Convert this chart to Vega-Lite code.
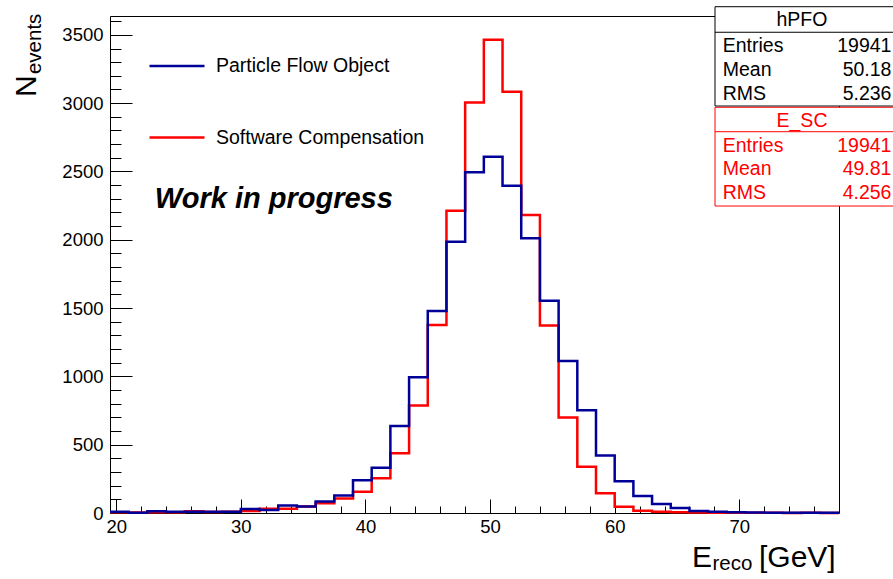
{
  "$schema": "https://vega.github.io/schema/vega-lite/v6.json",
  "width": 729,
  "height": 497,
  "autosize": {"type": "none"},
  "padding": {"left": 110, "top": 16, "right": 54, "bottom": 66},
  "background": "white",
  "config": {
    "view": {"stroke": "black", "strokeWidth": 1},
    "font": "Liberation Sans",
    "axis": {"grid": false, "domain": false, "tickColor": "black", "tickWidth": 1, "labelColor": "black", "labelFont": "Liberation Sans", "title": null}
  },
  "datasets": {
    "hist": [
      {"series": "Software Compensation", "lo": 19.5, "hi": 21, "n": 5},
      {"series": "Software Compensation", "lo": 21, "hi": 22.5, "n": 3},
      {"series": "Software Compensation", "lo": 22.5, "hi": 24, "n": 6},
      {"series": "Software Compensation", "lo": 24, "hi": 25.5, "n": 6},
      {"series": "Software Compensation", "lo": 25.5, "hi": 27, "n": 12},
      {"series": "Software Compensation", "lo": 27, "hi": 28.5, "n": 8},
      {"series": "Software Compensation", "lo": 28.5, "hi": 30, "n": 10},
      {"series": "Software Compensation", "lo": 30, "hi": 31.5, "n": 15},
      {"series": "Software Compensation", "lo": 31.5, "hi": 33, "n": 32},
      {"series": "Software Compensation", "lo": 33, "hi": 34.5, "n": 32},
      {"series": "Software Compensation", "lo": 34.5, "hi": 36, "n": 47},
      {"series": "Software Compensation", "lo": 36, "hi": 37.5, "n": 71},
      {"series": "Software Compensation", "lo": 37.5, "hi": 39, "n": 107},
      {"series": "Software Compensation", "lo": 39, "hi": 40.5, "n": 156},
      {"series": "Software Compensation", "lo": 40.5, "hi": 42, "n": 254},
      {"series": "Software Compensation", "lo": 42, "hi": 43.5, "n": 437},
      {"series": "Software Compensation", "lo": 43.5, "hi": 45, "n": 786},
      {"series": "Software Compensation", "lo": 45, "hi": 46.5, "n": 1376},
      {"series": "Software Compensation", "lo": 46.5, "hi": 48, "n": 2213},
      {"series": "Software Compensation", "lo": 48, "hi": 49.5, "n": 3004},
      {"series": "Software Compensation", "lo": 49.5, "hi": 51, "n": 3465},
      {"series": "Software Compensation", "lo": 51, "hi": 52.5, "n": 3084},
      {"series": "Software Compensation", "lo": 52.5, "hi": 54, "n": 2182},
      {"series": "Software Compensation", "lo": 54, "hi": 55.5, "n": 1373},
      {"series": "Software Compensation", "lo": 55.5, "hi": 57, "n": 699},
      {"series": "Software Compensation", "lo": 57, "hi": 58.5, "n": 339},
      {"series": "Software Compensation", "lo": 58.5, "hi": 60, "n": 144},
      {"series": "Software Compensation", "lo": 60, "hi": 61.5, "n": 46},
      {"series": "Software Compensation", "lo": 61.5, "hi": 63, "n": 17},
      {"series": "Software Compensation", "lo": 63, "hi": 64.5, "n": 10},
      {"series": "Software Compensation", "lo": 64.5, "hi": 66, "n": 5},
      {"series": "Software Compensation", "lo": 66, "hi": 67.5, "n": 3},
      {"series": "Software Compensation", "lo": 67.5, "hi": 69, "n": 2},
      {"series": "Software Compensation", "lo": 69, "hi": 70.5, "n": 1},
      {"series": "Software Compensation", "lo": 70.5, "hi": 72, "n": 1},
      {"series": "Software Compensation", "lo": 72, "hi": 73.5, "n": 1},
      {"series": "Software Compensation", "lo": 73.5, "hi": 75, "n": 0},
      {"series": "Software Compensation", "lo": 75, "hi": 76.5, "n": 1},
      {"series": "Software Compensation", "lo": 76.5, "hi": 78, "n": 0},
      {"series": "Particle Flow Object", "lo": 19.5, "hi": 21, "n": 10},
      {"series": "Particle Flow Object", "lo": 21, "hi": 22.5, "n": 2},
      {"series": "Particle Flow Object", "lo": 22.5, "hi": 24, "n": 12},
      {"series": "Particle Flow Object", "lo": 24, "hi": 25.5, "n": 9},
      {"series": "Particle Flow Object", "lo": 25.5, "hi": 27, "n": 9},
      {"series": "Particle Flow Object", "lo": 27, "hi": 28.5, "n": 9},
      {"series": "Particle Flow Object", "lo": 28.5, "hi": 30, "n": 9},
      {"series": "Particle Flow Object", "lo": 30, "hi": 31.5, "n": 29},
      {"series": "Particle Flow Object", "lo": 31.5, "hi": 33, "n": 22},
      {"series": "Particle Flow Object", "lo": 33, "hi": 34.5, "n": 54},
      {"series": "Particle Flow Object", "lo": 34.5, "hi": 36, "n": 47},
      {"series": "Particle Flow Object", "lo": 36, "hi": 37.5, "n": 85},
      {"series": "Particle Flow Object", "lo": 37.5, "hi": 39, "n": 129},
      {"series": "Particle Flow Object", "lo": 39, "hi": 40.5, "n": 239},
      {"series": "Particle Flow Object", "lo": 40.5, "hi": 42, "n": 332},
      {"series": "Particle Flow Object", "lo": 42, "hi": 43.5, "n": 637},
      {"series": "Particle Flow Object", "lo": 43.5, "hi": 45, "n": 993},
      {"series": "Particle Flow Object", "lo": 45, "hi": 46.5, "n": 1479},
      {"series": "Particle Flow Object", "lo": 46.5, "hi": 48, "n": 1986},
      {"series": "Particle Flow Object", "lo": 48, "hi": 49.5, "n": 2494},
      {"series": "Particle Flow Object", "lo": 49.5, "hi": 51, "n": 2608},
      {"series": "Particle Flow Object", "lo": 51, "hi": 52.5, "n": 2396},
      {"series": "Particle Flow Object", "lo": 52.5, "hi": 54, "n": 2011},
      {"series": "Particle Flow Object", "lo": 54, "hi": 55.5, "n": 1553},
      {"series": "Particle Flow Object", "lo": 55.5, "hi": 57, "n": 1113},
      {"series": "Particle Flow Object", "lo": 57, "hi": 58.5, "n": 752},
      {"series": "Particle Flow Object", "lo": 58.5, "hi": 60, "n": 420},
      {"series": "Particle Flow Object", "lo": 60, "hi": 61.5, "n": 232},
      {"series": "Particle Flow Object", "lo": 61.5, "hi": 63, "n": 124},
      {"series": "Particle Flow Object", "lo": 63, "hi": 64.5, "n": 66},
      {"series": "Particle Flow Object", "lo": 64.5, "hi": 66, "n": 37},
      {"series": "Particle Flow Object", "lo": 66, "hi": 67.5, "n": 15},
      {"series": "Particle Flow Object", "lo": 67.5, "hi": 69, "n": 10},
      {"series": "Particle Flow Object", "lo": 69, "hi": 70.5, "n": 5},
      {"series": "Particle Flow Object", "lo": 70.5, "hi": 72, "n": 3},
      {"series": "Particle Flow Object", "lo": 72, "hi": 73.5, "n": 2},
      {"series": "Particle Flow Object", "lo": 73.5, "hi": 75, "n": 2},
      {"series": "Particle Flow Object", "lo": 75, "hi": 76.5, "n": 1},
      {"series": "Particle Flow Object", "lo": 76.5, "hi": 78, "n": 1}
    ],
    "one": [{}]
  },
  "resolve": {"axis": {"x": "independent", "y": "independent"}},
  "layer": [
    {
      "data": {"name": "hist"},
      "transform": [{"fold": ["lo", "hi"], "as": ["edge", "E"]}],
      "mark": {"type": "line", "strokeWidth": 2.5, "strokeJoin": "miter", "strokeCap": "butt"},
      "encoding": {
        "x": {"field": "E", "type": "quantitative", "scale": {"domain": [19.5, 78], "nice": false, "zero": false},
              "axis": {"orient": "bottom", "values": [20, 30, 40, 50, 60, 70], "tickSize": -14, "labelPadding": 18, "labelFontSize": 18.5}},
        "y": {"field": "n", "type": "quantitative", "scale": {"domain": [0, 3638], "nice": false},
              "axis": {"orient": "left", "values": [0, 500, 1000, 1500, 2000, 2500, 3000, 3500], "format": "d", "tickSize": -22, "labelPadding": 29, "labelFontSize": 18.5}},
        "color": {"field": "series", "type": "nominal",
                  "scale": {"domain": ["Particle Flow Object", "Software Compensation"], "range": ["#000099", "#ff0000"]},
                  "legend": {"orient": "none", "legendX": 38, "legendY": 21, "title": null, "symbolType": "stroke", "symbolSize": 3025, "symbolStrokeWidth": 2.5, "labelFontSize": 19.5, "labelFont": "Liberation Sans", "labelColor": "black", "labelOffset": 10, "labelLimit": 500, "rowPadding": 32.5, "padding": 0}},
        "order": [{"field": "E", "type": "quantitative"}, {"field": "edge", "type": "ordinal"}]
      }
    },
    {
      "data": {"name": "one"},
      "mark": {"type": "rect", "fill": "white", "stroke": "black", "strokeWidth": 1},
      "encoding": {
        "x": {"datum": 68.05, "type": "quantitative",
              "axis": {"orient": "bottom", "values": [20, 22, 24, 26, 28, 30, 32, 34, 36, 38, 40, 42, 44, 46, 48, 50, 52, 54, 56, 58, 60, 62, 64, 66, 68, 70, 72, 74, 76], "tickSize": -7, "labels": false}},
        "x2": {"datum": 82.5},
        "y": {"datum": 3706, "type": "quantitative",
              "axis": {"orient": "left", "values": [0, 100, 200, 300, 400, 500, 600, 700, 800, 900, 1000, 1100, 1200, 1300, 1400, 1500, 1600, 1700, 1800, 1900, 2000, 2100, 2200, 2300, 2400, 2500, 2600, 2700, 2800, 2900, 3000, 3100, 3200, 3300, 3400, 3500, 3600], "tickSize": -11, "labels": false}},
        "y2": {"datum": 2979}
      }
    },
    {
      "data": {"name": "one"},
      "mark": {"type": "rule", "stroke": "black", "strokeWidth": 1},
      "encoding": {"x": {"datum": 68.05, "type": "quantitative", "axis": null}, "x2": {"datum": 82.5}, "y": {"datum": 3519, "type": "quantitative", "axis": null}}
    },
    {
      "data": {"name": "one"},
      "mark": {"type": "text", "text": "hPFO", "fontSize": 19.5, "align": "center", "baseline": "middle", "color": "black"},
      "encoding": {"x": {"datum": 75.03, "type": "quantitative", "axis": null}, "y": {"datum": 3609, "type": "quantitative", "axis": null}}
    },
    {
      "data": {"name": "one"},
      "mark": {"type": "text", "text": ["Entries", "Mean", "RMS"], "fontSize": 19.5, "lineHeight": 24, "align": "left", "baseline": "alphabetic", "color": "black"},
      "encoding": {"x": {"datum": 68.67, "type": "quantitative", "axis": null}, "y": {"datum": 3374, "type": "quantitative", "axis": null}}
    },
    {
      "data": {"name": "one"},
      "mark": {"type": "text", "text": ["19941", "50.18", "5.236"], "fontSize": 19.5, "lineHeight": 24, "align": "right", "baseline": "alphabetic", "color": "black"},
      "encoding": {"x": {"datum": 82.21, "type": "quantitative", "axis": null}, "y": {"datum": 3374, "type": "quantitative", "axis": null}}
    },
    {
      "data": {"name": "one"},
      "mark": {"type": "rect", "fill": "white", "stroke": "#ff0000", "strokeWidth": 1},
      "encoding": {"x": {"datum": 68.05, "type": "quantitative", "axis": null}, "x2": {"datum": 82.5}, "y": {"datum": 2970, "type": "quantitative", "axis": null}, "y2": {"datum": 2247}}
    },
    {
      "data": {"name": "one"},
      "mark": {"type": "rule", "stroke": "#ff0000", "strokeWidth": 1},
      "encoding": {"x": {"datum": 68.05, "type": "quantitative", "axis": null}, "x2": {"datum": 82.5}, "y": {"datum": 2791, "type": "quantitative", "axis": null}}
    },
    {
      "data": {"name": "one"},
      "mark": {"type": "text", "text": "E_SC", "fontSize": 19.5, "align": "center", "baseline": "middle", "color": "#ff0000"},
      "encoding": {"x": {"datum": 75.03, "type": "quantitative", "axis": null}, "y": {"datum": 2872, "type": "quantitative", "axis": null}}
    },
    {
      "data": {"name": "one"},
      "mark": {"type": "text", "text": ["Entries", "Mean", "RMS"], "fontSize": 19.5, "lineHeight": 23.5, "align": "left", "baseline": "alphabetic", "color": "#ff0000"},
      "encoding": {"x": {"datum": 68.67, "type": "quantitative", "axis": null}, "y": {"datum": 2643, "type": "quantitative", "axis": null}}
    },
    {
      "data": {"name": "one"},
      "mark": {"type": "text", "text": ["19941", "49.81", "4.256"], "fontSize": 19.5, "lineHeight": 23.5, "align": "right", "baseline": "alphabetic", "color": "#ff0000"},
      "encoding": {"x": {"datum": 82.21, "type": "quantitative", "axis": null}, "y": {"datum": 2643, "type": "quantitative", "axis": null}}
    },
    {
      "data": {"name": "one"},
      "mark": {"type": "text", "text": "Work in progress", "fontSize": 29, "fontWeight": "bold", "fontStyle": "italic", "align": "left", "baseline": "alphabetic", "color": "black"},
      "encoding": {"x": {"datum": 23.1, "type": "quantitative", "axis": null}, "y": {"datum": 2233, "type": "quantitative", "axis": null}}
    },
    {
      "data": {"name": "one"},
      "mark": {"type": "text", "text": "N", "fontSize": 30, "angle": 270, "align": "left", "baseline": "alphabetic", "color": "black"},
      "encoding": {"x": {"datum": 13.56, "type": "quantitative", "axis": null}, "y": {"datum": 3045, "type": "quantitative", "axis": null}}
    },
    {
      "data": {"name": "one"},
      "mark": {"type": "text", "text": "events", "fontSize": 20.5, "angle": 270, "align": "left", "baseline": "alphabetic", "color": "black"},
      "encoding": {"x": {"datum": 13.96, "type": "quantitative", "axis": null}, "y": {"datum": 3213, "type": "quantitative", "axis": null}}
    },
    {
      "data": {"name": "one"},
      "mark": {"type": "text", "text": "E", "fontSize": 30, "align": "left", "baseline": "alphabetic", "color": "black"},
      "encoding": {"x": {"datum": 66.2, "type": "quantitative", "axis": null}, "y": {"datum": -393, "type": "quantitative", "axis": null}}
    },
    {
      "data": {"name": "one"},
      "mark": {"type": "text", "text": "reco", "fontSize": 20.5, "align": "left", "baseline": "alphabetic", "color": "black"},
      "encoding": {"x": {"datum": 67.85, "type": "quantitative", "axis": null}, "y": {"datum": -417, "type": "quantitative", "axis": null}}
    },
    {
      "data": {"name": "one"},
      "mark": {"type": "text", "text": "[GeV]", "fontSize": 30, "align": "left", "baseline": "alphabetic", "color": "black"},
      "encoding": {"x": {"datum": 71.58, "type": "quantitative", "axis": null}, "y": {"datum": -393, "type": "quantitative", "axis": null}}
    }
  ]
}
